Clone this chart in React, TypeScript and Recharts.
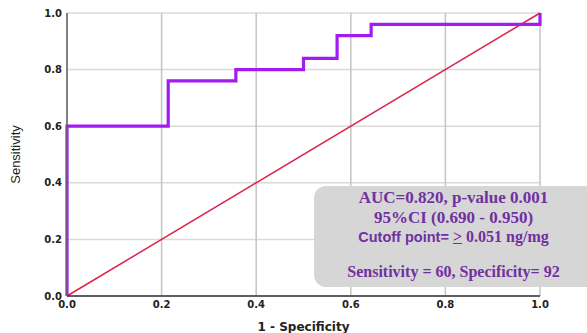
import { LineChart, Line, XAxis, YAxis, CartesianGrid, Label } from "recharts"

// ROC curve corner points (1 - specificity, sensitivity)
const fpr = [0, 0, 0.214, 0.357, 0.5, 0.571, 0.643, 1.0]
const tpr = [0, 0.6, 0.76, 0.8, 0.84, 0.92, 0.96, 1.0]
const refLine = [0, 1]
const ticks = [0, 0.2, 0.4, 0.6, 0.8, 1.0]

const rocData = fpr.map((x, i) => ({ x, y: tpr[i] }))
const diagData = refLine.map((v) => ({ x: v, y: v }))

const purple = "#7030A0"
const tickStyle = { fontSize: 10, fontWeight: 700, fill: "#222", fontFamily: "DejaVu Sans" }

export default function App() {
  return (
    <div style={{ position: "absolute", left: 0, top: 0, width: 587, height: 333, overflow: "hidden", background: "#fff" }}>
      <LineChart width={587} height={333} margin={{ top: 13, right: 47, bottom: 0, left: 0 }}>
        <CartesianGrid horizontal={true} vertical={false} stroke="#dadada" strokeWidth={1.5} />
        <CartesianGrid horizontal={false} vertical={true} stroke="#c4c4c4" strokeWidth={1.5} />
        <XAxis
          type="number"
          dataKey="x"
          domain={[0, 1]}
          ticks={ticks}
          tickFormatter={(v: number) => v.toFixed(1)}
          tick={tickStyle}
          tickSize={0}
          tickMargin={5}
          height={37}
          stroke="#333"
          strokeWidth={1.5}
          allowDuplicatedCategory={false}
        >
          <Label value="1 - Specificity" position="insideBottom" offset={2} style={{ fontSize: 12, fontWeight: 700, fill: "#222", fontFamily: "DejaVu Sans" }} />
        </XAxis>
        <YAxis
          type="number"
          dataKey="y"
          domain={[0, 1]}
          ticks={ticks}
          tickFormatter={(v: number) => v.toFixed(1)}
          tick={tickStyle}
          tickSize={0}
          tickMargin={5}
          width={67}
          stroke="#666"
          strokeWidth={1.5}
        >
          <Label value="Sensitivity" angle={-90} position="insideLeft" offset={15} style={{ fontSize: 13, fill: "#222", fontFamily: "Liberation Sans Narrow, Liberation Sans", textAnchor: "middle" }} />
        </YAxis>
        <Line data={diagData} dataKey="y" type="linear" stroke="#E0204A" strokeWidth={1.5} dot={false} isAnimationActive={false} />
        <Line data={rocData} dataKey="y" type="stepAfter" stroke="#A21CF0" strokeWidth={3.2} dot={false} isAnimationActive={false} />
      </LineChart>
      <div
        style={{
          position: "absolute",
          left: 314,
          top: 186,
          width: 290,
          height: 101,
          background: "#d6d6d6",
          borderRadius: 12,
        }}
      />
      <div
        style={{
          position: "absolute",
          left: 320,
          width: 267,
          top: 188,
          textAlign: "center",
          color: purple,
          fontFamily: "Liberation Serif",
          fontWeight: 700,
          fontSize: 16,
          lineHeight: "19.5px",
          whiteSpace: "nowrap",
        }}
      >
        <div style={{ fontSize: 17 }}>AUC=0.820, p-value 0.001</div>
        <div style={{ fontSize: 17 }}>95%CI (0.690 - 0.950)</div>
        <div>
          <span style={{ fontFamily: "Liberation Sans", fontSize: 14.5 }}>Cutoff point= </span>
          <span style={{ textDecoration: "underline" }}>&gt;</span> 0.051 ng/mg
        </div>
        <div style={{ marginTop: 14, fontSize: 16 }}>Sensitivity = 60, Specificity= 92</div>
      </div>
    </div>
  )
}
